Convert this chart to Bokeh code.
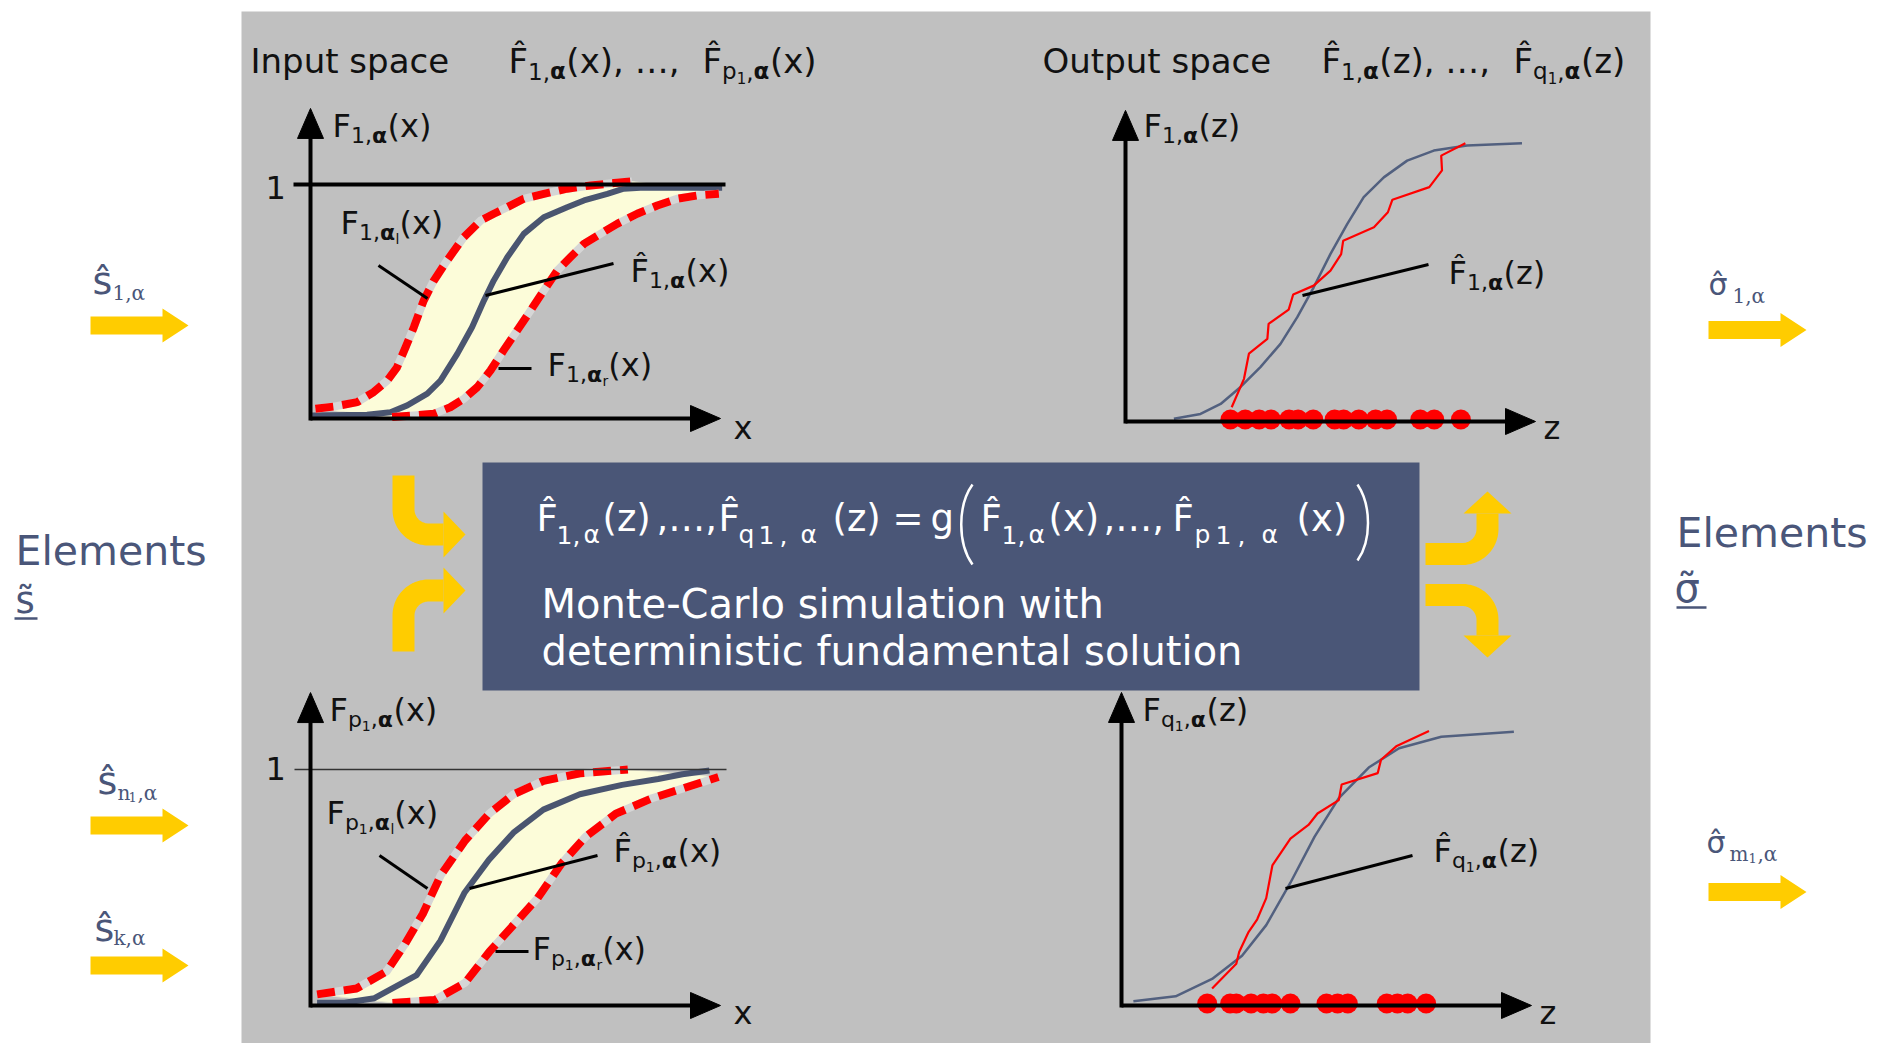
import numpy as np
from bokeh.plotting import figure
from bokeh.models import Range1d
from bokeh.core.properties import value
from bokeh.embed import file_html
from bokeh.resources import INLINE

# ------------------------------------------------------------------ data
# input space, first variable (x in axis units 0..10, F in 0..1)
in1_est_x = [0.04, 1.38, 1.95, 2.36, 2.85, 3.17, 3.58, 3.94, 4.23, 4.47, 4.80, 5.20, 5.69, 6.26, 6.67, 7.24, 7.64, 8.05, 10.04]
in1_est_y = [0.013, 0.016, 0.027, 0.056, 0.106, 0.162, 0.276, 0.390, 0.504, 0.590, 0.689, 0.789, 0.860, 0.903, 0.932, 0.960, 0.982, 0.986, 0.986]
in1_lo_x = [0.12, 0.57, 1.14, 1.54, 1.87, 2.11, 2.32, 2.52, 2.76, 3.01, 3.33, 3.74, 4.15, 4.47, 4.80, 5.20, 5.69, 6.26, 6.83, 7.40, 7.84]
in1_lo_y = [0.042, 0.051, 0.070, 0.113, 0.162, 0.219, 0.305, 0.390, 0.504, 0.590, 0.675, 0.775, 0.846, 0.875, 0.903, 0.939, 0.960, 0.982, 0.996, 1.006, 1.013]
in1_hi_x = [1.99, 2.52, 3.01, 3.41, 3.74, 4.07, 4.39, 4.71, 5.04, 5.37, 5.69, 6.02, 6.34, 6.67, 7.07, 7.48, 7.97, 8.46, 8.94, 9.43, 9.96]
in1_hi_y = [0.006, 0.013, 0.020, 0.048, 0.084, 0.134, 0.205, 0.291, 0.376, 0.462, 0.547, 0.632, 0.689, 0.746, 0.789, 0.832, 0.875, 0.910, 0.939, 0.953, 0.960]

# input space, variable p1
in2_est_x = [0.16, 0.83, 1.56, 2.59, 3.17, 3.76, 4.35, 4.95, 5.68, 6.57, 7.60, 8.48, 9.07, 9.73]
in2_est_y = [0.012, 0.012, 0.031, 0.129, 0.275, 0.479, 0.617, 0.732, 0.830, 0.895, 0.935, 0.960, 0.980, 0.996]
in2_lo_x = [0.16, 1.12, 1.86, 2.30, 2.74, 3.18, 3.77, 4.36, 4.95, 5.68, 6.57, 7.74]
in2_lo_y = [0.047, 0.072, 0.145, 0.259, 0.389, 0.553, 0.699, 0.813, 0.895, 0.952, 0.984, 1.0]
in2_hi_x = [2.0, 3.03, 3.77, 4.36, 4.95, 5.54, 6.12, 6.71, 7.45, 8.33, 9.07, 9.95]
in2_hi_y = [0.011, 0.023, 0.096, 0.227, 0.341, 0.455, 0.601, 0.715, 0.813, 0.878, 0.919, 0.968]

# output space, first result
out1_fit_x = [1.18, 1.83, 2.32, 2.80, 3.29, 3.78, 4.19, 4.59, 5.0, 5.41, 5.81, 6.30, 6.87, 7.52, 8.33, 9.67]
out1_fit_y = [0.010, 0.027, 0.063, 0.123, 0.195, 0.278, 0.374, 0.481, 0.601, 0.708, 0.804, 0.875, 0.935, 0.971, 0.989, 0.997]
out1_emp_x = [2.59, 2.89, 3.01, 3.46, 3.49, 3.98, 4.09, 4.59, 5.0, 5.26, 5.31, 6.06, 6.40, 6.51, 7.41, 7.72, 7.70, 8.29]
out1_emp_y = [0.051, 0.153, 0.243, 0.296, 0.350, 0.401, 0.455, 0.487, 0.541, 0.600, 0.648, 0.696, 0.750, 0.795, 0.840, 0.900, 0.953, 0.997]
out1_samples = [2.56, 2.92, 3.26, 3.55, 3.99, 4.21, 4.58, 5.10, 5.32, 5.69, 6.10, 6.38, 7.19, 7.53, 8.18]

# output space, result q1
out2_fit_x = [0.29, 1.32, 2.21, 2.94, 3.53, 4.12, 4.71, 5.30, 6.03, 6.77, 7.80, 9.57]
out2_fit_y = [0.015, 0.033, 0.095, 0.178, 0.288, 0.440, 0.605, 0.743, 0.853, 0.922, 0.963, 0.981]
out2_emp_x = [2.21, 2.80, 2.87, 3.09, 3.31, 3.53, 3.68, 4.12, 4.56, 4.78, 5.30, 5.37, 6.25, 6.33, 6.70, 7.50]
out2_emp_y = [0.061, 0.150, 0.192, 0.261, 0.309, 0.385, 0.502, 0.598, 0.647, 0.688, 0.736, 0.792, 0.833, 0.881, 0.929, 0.984]
out2_samples = [2.09, 2.65, 2.80, 3.16, 3.46, 3.68, 4.12, 5.00, 5.27, 5.52, 6.47, 6.73, 6.98, 7.43]

# texts
title_in = "Input space"
title_out = "Output space"
box_line1 = "Monte-Carlo simulation with"
box_line2 = "deterministic fundamental solution"
elements = "Elements"

# ------------------------------------------------------------------ style / layout
PANEL = "#c0c0c0"
BOX = "#4a5677"
YEL = "#ffcc00"
SLATE = "#4a5679"
INK = "#111111"
RED = "#ff0000"
EST = "#4a5570"
FIT = "#52607f"
BAND = "#fcfcd9"
TEXT_DY = -13  # compensation of the renderer's baseline placement

# frame: origin x, origin y (px), px per x unit, px per F unit, y-axis length (F units)
FR = {
    "in1": (310, 418, 41, 234, 1.325),
    "in2": (310, 1005, 41, 236, 1.326),
    "out1": (1125, 421, 41, 279, 1.115),
    "out2": (1121, 1005, 41, 279, 1.122),
}


def to_px(fr, xs, ys):
    ox, oy, ux, uy, _ = FR[fr]
    return (ox + ux * np.asarray(xs, float)).tolist(), (oy - uy * np.asarray(ys, float)).tolist()


p = figure(width=1892, height=1043, x_range=Range1d(0, 1892), y_range=Range1d(1043, 0),
           x_axis_type=None, y_axis_type=None, min_border=0, toolbar_location=None,
           output_backend="svg", background_fill_color="white", border_fill_color="white")
p.outline_line_color = None

# gray panel and box
p.quad(left=[241], right=[1650], top=[11], bottom=[1043], fill_color=PANEL, line_color=None)
p.quad(left=[482], right=[1419], top=[462], bottom=[690], fill_color=BOX, line_color=None)

# ------------------------------------------------------------------ input charts
for fr, ex, ey, lx, ly, hx, hy in (
    ("in1", in1_est_x, in1_est_y, in1_lo_x, in1_lo_y, in1_hi_x, in1_hi_y),
    ("in2", in2_est_x, in2_est_y, in2_lo_x, in2_lo_y, in2_hi_x, in2_hi_y),
):
    LX, LY = to_px(fr, lx, ly)
    HX, HY = to_px(fr, hx, hy)
    p.patch(LX + HX[::-1], LY + HY[::-1], fill_color=BAND, line_color="#e6e6d0", line_width=1)
    EX, EY = to_px(fr, ex, ey)
    p.line(EX, EY, line_color=EST, line_width=6, line_join="round")
    for X, Y in ((LX, LY), (HX, HY)):
        p.line(X, Y, line_color="#d6d6d6", line_width=8, line_join="round")
        p.line(X, Y, line_color=RED, line_width=8, line_dash="18 9", line_join="round")

# "1" reference lines
ox, oy, ux, uy, _ = FR["in1"]
p.line([ox - 17, ox + 415], [oy - uy, oy - uy], line_color="black", line_width=4)
ox, oy, ux, uy, _ = FR["in2"]
p.line([ox - 16, ox + 416], [oy - uy, oy - uy], line_color="#333333", line_width=1.5)

# ------------------------------------------------------------------ output charts
for fr, fx, fy, mx, my, smp in (
    ("out1", out1_fit_x, out1_fit_y, out1_emp_x, out1_emp_y, out1_samples),
    ("out2", out2_fit_x, out2_fit_y, out2_emp_x, out2_emp_y, out2_samples),
):
    FX, FY = to_px(fr, fx, fy)
    p.line(FX, FY, line_color=FIT, line_width=2.5)
    MX, MY = to_px(fr, mx, my)
    p.line(MX, MY, line_color=RED, line_width=2.2)
    SX, SY = to_px(fr, smp, [0] * len(smp))
    p.scatter(SX, [y - 2 for y in SY], marker="circle", size=20, fill_color=RED, line_color=None)

# ------------------------------------------------------------------ axes with arrow heads
ax_lines_x, ax_lines_y, heads_x, heads_y = [], [], [], []
for fr, (ox, oy, ux, uy, ylen) in FR.items():
    xt = ox + ux * 10.0
    yt = oy - uy * ylen
    ax_lines_x += [[ox, xt - 24], [ox, ox]]
    ax_lines_y += [[oy, oy], [oy + 2, yt + 24]]
    heads_x += [[xt - 30, xt, xt - 30], [ox - 13, ox, ox + 13]]
    heads_y += [[oy - 13, oy, oy + 13], [yt + 30, yt, yt + 30]]
p.multi_line(ax_lines_x, ax_lines_y, line_color="black", line_width=4)
p.patches(heads_x, heads_y, fill_color="black", line_color="black", line_width=1)

# leader lines
p.multi_line(
    [[378, 427], [485, 613], [498, 531], [379, 427], [469, 597], [495, 528], [1302, 1428], [1285, 1412]],
    [[265, 298], [295, 263], [368, 368], [855, 888], [888, 855], [951, 951], [295, 264], [888, 855]],
    line_color="black", line_width=3)

# ------------------------------------------------------------------ yellow arrows
def straight_arrow(x0, x1, yc, half=9, head=26, hhalf=17):
    xb = x1 - head
    return [x0, xb, xb, x1, xb, xb, x0], [yc - half, yc - half, yc - hhalf, yc, yc + hhalf, yc + half, yc + half]


sx, sy = [], []
for (x0, x1, yc) in ((90, 188, 325), (90, 188, 825), (90, 188, 965), (1708, 1806, 329.5), (1708, 1806, 891.5)):
    a, b = straight_arrow(x0, x1, yc)
    sx.append(a)
    sy.append(b)


def bent(start, corner_c, r, t0, t1, end):
    th = np.linspace(t0, t1, 24)
    xs = [start[0]] + (corner_c[0] + r * np.cos(th)).tolist() + [end[0]]
    ys = [start[1]] + (corner_c[1] + r * np.sin(th)).tolist() + [end[1]]
    return xs, ys


pi = np.pi
bx, by = [], []
for args in (
    ((403, 475), (428, 509), 25, pi, pi / 2, (443, 534)),
    ((403, 651), (428, 615), 25, pi, 1.5 * pi, (443, 590)),
    ((1425, 553.5), (1462, 528.5), 25, pi / 2, 0, (1487, 513)),
    ((1425, 594.5), (1462, 619.5), 25, 1.5 * pi, 2 * pi, (1487, 635)),
):
    a, b = bent(*args)
    bx.append(a)
    by.append(b)
p.multi_line(bx, by, line_color=YEL, line_width=22, line_cap="butt", line_join="round")
sx += [[443, 465, 443], [443, 465, 443], [1463, 1487, 1511], [1463, 1487, 1511]]
sy += [[511, 534, 557], [567, 590, 613], [513, 491, 513], [635, 657, 635]]
p.patches(sx, sy, fill_color=YEL, line_color=None)

# ------------------------------------------------------------------ text
W = {' ': 0.318, '(': 0.390, ')': 0.390, ',': 0.318, '.': 0.318, '-': 0.361, '=': 0.838, '\u2026': 1.0,
     'F': 0.575, 'I': 0.295, 'E': 0.632, 'M': 0.863, 'C': 0.698, 'O': 0.787,
     'a': 0.613, 'c': 0.550, 'd': 0.635, 'e': 0.615, 'g': 0.635, 'h': 0.634, 'i': 0.278, 'k': 0.579,
     'l': 0.278, 'm': 0.974, 'n': 0.634, 'o': 0.612, 'p': 0.635, 'q': 0.635, 'r': 0.411, 's': 0.521,
     't': 0.392, 'u': 0.634, 'w': 0.818, 'x': 0.592, 'z': 0.525, '\u03b1': 0.659, '\u03c3': 0.634,
     '\u0302': 0.0, '\u0303': 0.0}


def tw(t, size):
    return sum(W.get(c, 0.636) for c in t) * size


SANS = {k: [] for k in ("x", "y", "text", "size", "style", "color")}
SERIF = {k: [] for k in ("x", "y", "text", "size", "style", "color")}


def put(store, x, y, t, size, color, bold=False):
    store["x"].append(x)
    store["y"].append(y + TEXT_DY)
    store["text"].append(t)
    store["size"].append(f"{size}px")
    store["style"].append("bold" if bold else "normal")
    store["color"].append(color)


def rich(x, y, runs, m, color=INK, store=SANS):
    for run in runs:
        t, lvl = run[0], run[1]
        bold = len(run) > 2 and run[2]
        s = {0: m, 1: round(m * 0.68), 2: round(m * 0.44)}[lvl]
        dy = {0: 0, 1: 0.31 * m, 2: 0.5 * m}[lvl]
        put(store, x, y + dy, t, s, color, bold)
        x += tw(t, s) * (1.08 if bold else 1.0)
    return x


HAT = "F\u0302"
S1 = [("1,", 1), ("\u03b1", 1, True)]
SP = [("p", 1), ("1", 2), (",", 1), ("\u03b1", 1, True)]
SQ = [("q", 1), ("1", 2), (",", 1), ("\u03b1", 1, True)]

# titles
put(SANS, 250, 73, title_in, 34, INK)
rich(508, 73, [(HAT, 0)] + S1 + [("(x), \u2026, ", 0)], 34)
rich(702, 73, [(HAT, 0)] + SP + [("(x)", 0)], 34)
put(SANS, 1042, 73, title_out, 34, INK)
rich(1321, 73, [(HAT, 0)] + S1 + [("(z), \u2026, ", 0)], 34)
rich(1513, 73, [(HAT, 0)] + SQ + [("(z)", 0)], 34)

# chart labels
rich(332, 138, [("F", 0)] + S1 + [("(x)", 0)], 32)
rich(340, 235, [("F", 0)] + S1 + [("l", 2), ("(x)", 0)], 32)
rich(630, 283, [(HAT, 0)] + S1 + [("(x)", 0)], 32)
rich(547, 377, [("F", 0)] + S1 + [("r", 2), (" (x)", 0)], 32)
rich(329, 722, [("F", 0)] + SP + [("(x)", 0)], 32)
rich(326, 825, [("F", 0)] + SP + [("l", 2), ("(x)", 0)], 32)
rich(613, 863, [(HAT, 0)] + SP + [("(x)", 0)], 32)
rich(532, 961, [("F", 0)] + SP + [("r", 2), ("(x)", 0)], 32)
rich(1143, 138, [("F", 0)] + S1 + [("(z)", 0)], 32)
rich(1448, 285, [(HAT, 0)] + S1 + [("(z)", 0)], 32)
rich(1142, 722, [("F", 0)] + SQ + [("(z)", 0)], 32)
rich(1433, 863, [(HAT, 0)] + SQ + [("(z)", 0)], 32)
put(SANS, 265, 200, "1", 32, INK)
put(SANS, 265, 781, "1", 32, INK)
put(SANS, 733, 440, "x", 32, INK)
put(SANS, 733, 1025, "x", 32, INK)
put(SANS, 1543, 440, "z", 32, INK)
put(SANS, 1539, 1025, "z", 32, INK)

# formula in the box (white)
WH = "white"
formula_main = ((HAT, 536), ("(z)", 602), (",\u2026,", 656), (HAT, 718), ("(z)", 832), ("=", 892), ("g", 930),
                (HAT, 980), ("(x)", 1048), (",\u2026,", 1103), (HAT, 1172), ("(x)", 1296))
formula_sub = (("1", 556), (",", 572), ("\u03b1", 583),
               ("q", 738), ("1", 758), (",", 779), ("\u03b1", 800),
               ("1", 1001), (",", 1017), ("\u03b1", 1028),
               ("p", 1194), ("1", 1215), (",", 1237), ("\u03b1", 1261))
for t, xx in formula_main:
    put(SANS, xx, 531, t, 37, WH)
for t, xx in formula_sub:
    put(SANS, xx, 547, t, 25, WH)
p.bezier(x0=[972, 1357], y0=[484, 484], x1=[972, 1357], y1=[564, 560],
         cx0=[957, 1371], cy0=[505, 505], cx1=[957, 1371], cy1=[543, 540], line_color=WH, line_width=2.5)
put(SANS, 541, 616, box_line1, 40, WH)
put(SANS, 541, 663, box_line2, 40, WH)

# side labels
put(SANS, 15, 563, elements, 41, SLATE)
put(SANS, 15, 613, "s\u0303", 37, SLATE)
put(SANS, 1676, 545, elements, 41, SLATE)
put(SANS, 1674, 600, "\u03c3\u0303", 40, SLATE)
p.multi_line([[14, 37], [1676, 1706]], [[618, 618], [607, 607]], line_color=SLATE, line_width=2.5)

put(SANS, 92, 293, "s\u0302", 38, SLATE)
put(SERIF, 112, 305, "1,\u03b1", 20, SLATE)
put(SANS, 97, 793, "s\u0302", 38, SLATE)
put(SERIF, 117, 805, "n", 20, SLATE)
put(SERIF, 128, 809, "1", 13, SLATE)
put(SERIF, 137, 805, ",\u03b1", 20, SLATE)
put(SANS, 94, 940, "s\u0302", 38, SLATE)
put(SERIF, 113, 950, "k,\u03b1", 20, SLATE)
put(SANS, 1708, 297, "\u03c3\u0302", 30, SLATE)
put(SERIF, 1732, 308, "1,\u03b1", 20, SLATE)
put(SANS, 1706, 855, "\u03c3\u0302", 30, SLATE)
put(SERIF, 1729, 866, "m", 20, SLATE)
put(SERIF, 1748, 870, "1", 13, SLATE)
put(SERIF, 1757, 866, ",\u03b1", 20, SLATE)

for store, font in ((SANS, "DejaVu Sans"), (SERIF, "DejaVu Serif")):
    p.text(x="x", y="y", text="text", source=store, text_font=value(font), text_font_size="size",
           text_font_style="style", text_color="color", text_align="left", text_baseline="alphabetic")

open("out.html", "w").write(file_html(p, INLINE))
